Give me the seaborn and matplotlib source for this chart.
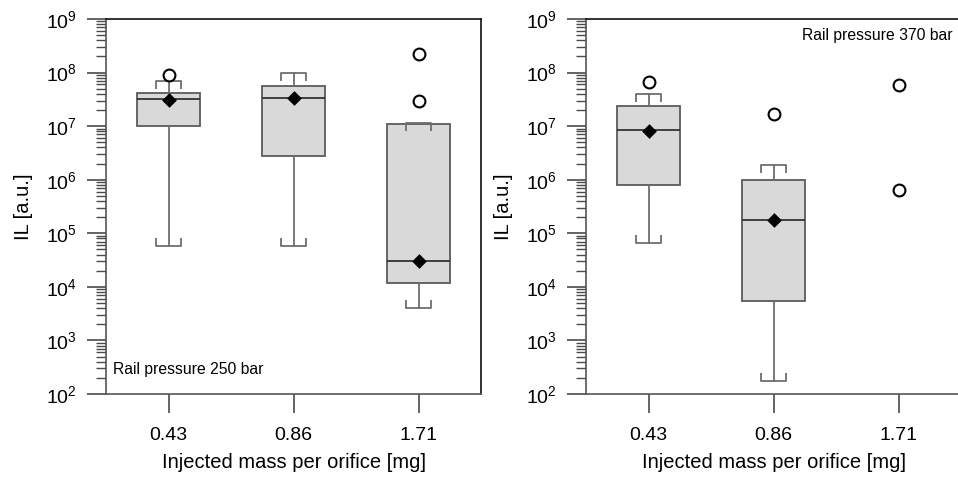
import numpy as np
import pandas as pd
import matplotlib
matplotlib.use("Agg")
import matplotlib.pyplot as plt
from matplotlib.ticker import LogLocator, NullFormatter, LogFormatterSciNotation
import seaborn as sns

# ---- data: box statistics of IL per injected mass ----
categories = ["0.43", "0.86", "1.71"]

p250_whislo = [5.7e4, 5.8e4, 4.1e3]
p250_q1 = [1.0e7, 2.8e6, 1.2e4]
p250_med = [3.2e7, 3.4e7, 3.1e4]
p250_q3 = [4.1e7, 5.7e7, 1.12e7]
p250_whishi = [7.1e7, 1.0e8, 1.14e7]
p250_mean = [3.1e7, 3.3e7, 3.1e4]
p250_fliers = [[9.2e7], [], [2.25e8, 2.9e7]]

p370_whislo = [6.7e4, 1.75e2, np.nan]
p370_q1 = [7.8e5, 5.4e3, np.nan]
p370_med = [8.3e6, 1.77e5, np.nan]
p370_q3 = [2.4e7, 1.0e6, np.nan]
p370_whishi = [3.9e7, 1.88e6, np.nan]
p370_mean = [8.2e6, 1.75e5, np.nan]
p370_fliers = [[6.8e7], [1.7e7], [5.8e7, 6.3e5]]

panel_titles = ["Rail pressure 250 bar", "Rail pressure 370 bar"]

# ---- style ----
sns.set_theme(style="ticks")
plt.rcParams["font.family"] = ["Liberation Sans", "DejaVu Sans"]
plt.rcParams["mathtext.fontset"] = "custom"
plt.rcParams["mathtext.rm"] = "Liberation Sans"
plt.rcParams["mathtext.it"] = "Liberation Sans:italic"
plt.rcParams["mathtext.default"] = "regular"
plt.rcParams["text.color"] = "black"
plt.rcParams["axes.labelcolor"] = "black"

BOX_FILL = "#d9d9d9"
BOX_EDGE = "#5a5a5a"
WHISK = "#6e6e6e"
MED = "#333333"

fig = plt.figure(figsize=(9.58, 4.78), dpi=100)
ax_l = fig.add_axes([106 / 958, 1 - 394 / 478, 375 / 958, 375 / 478])
ax_r = fig.add_axes([586 / 958, 1 - 394 / 478, 375 / 958, 375 / 478])


def stats_table(whislo, q1, med, q3, whishi, mean):
    return pd.DataFrame({"cat": categories, "whislo": whislo, "q1": q1,
                         "med": med, "q3": q3, "whishi": whishi, "mean": mean})


def draw_panel(ax, table, fliers, title, title_loc):
    ax.set_yscale("log")
    ax.set_ylim(1e2, 1e9)

    valid = table.dropna()
    positions = [categories.index(c) for c in valid["cat"]]
    bxpstats = [dict(whislo=r.whislo, q1=r.q1, med=r.med, q3=r.q3,
                     whishi=r.whishi, fliers=[]) for r in valid.itertuples()]
    art = ax.bxp(bxpstats, positions=positions, widths=0.5, capwidths=0.2,
                 patch_artist=True, showfliers=False, manage_ticks=False,
                 boxprops=dict(facecolor=BOX_FILL, edgecolor=BOX_EDGE, linewidth=1.3),
                 whiskerprops=dict(color=WHISK, linewidth=1.3),
                 capprops=dict(color=WHISK, linewidth=1.3),
                 medianprops=dict(color=MED, linewidth=1.3))

    # short serifs at the cap ends, pointing toward the box
    for i, cap in enumerate(art["caps"]):
        xd = cap.get_xdata()
        yd = cap.get_ydata()
        marker = 2 if i % 2 == 0 else 3
        ax.plot(xd, yd, linestyle="none", marker=marker, markersize=6,
                markeredgewidth=1.3, color=WHISK, zorder=cap.get_zorder())

    # means
    means = valid[["cat", "mean"]]
    sns.stripplot(data=means, x="cat", y="mean", order=categories, jitter=False,
                  marker="D", size=7.5, color="black", linewidth=0, ax=ax, zorder=5)

    # outliers
    fl = pd.DataFrame([(c, v) for c, vals in zip(categories, fliers) for v in vals],
                      columns=["cat", "val"])
    sns.stripplot(data=fl, x="cat", y="val", order=categories, jitter=False,
                  marker="o", size=8.5, color="white", edgecolor="black",
                  linewidth=1.5, ax=ax, zorder=5)

    ax.set_xlim(-0.5, 2.5)
    ax.set_ylim(1e2, 1e9)
    ax.yaxis.set_major_locator(LogLocator(base=10, numticks=20))
    ax.yaxis.set_minor_locator(LogLocator(base=10, subs=np.arange(2, 10), numticks=20))
    ax.yaxis.set_major_formatter(LogFormatterSciNotation())
    ax.yaxis.set_minor_formatter(NullFormatter())

    ax.set_xlabel("Injected mass per orifice [mg]", fontsize=14.5, labelpad=6)
    ax.set_ylabel("IL [a.u.]", fontsize=14.5, labelpad=9)
    ax.tick_params(axis="both", which="major", direction="out", length=14,
                   width=1.1, color="#3a3a3a", labelsize=14, pad=7,
                   labelcolor="black")
    ax.tick_params(axis="y", which="minor", direction="out", length=7,
                   width=1.0, color="#4a4a4a")
    ax.tick_params(axis="x", which="major", pad=10)

    for side in ["left", "bottom"]:
        ax.spines[side].set_color("#555555")
        ax.spines[side].set_linewidth(1.2)
    for side in ["top", "right"]:
        ax.spines[side].set_visible(True)
        ax.spines[side].set_color("#111111")
        ax.spines[side].set_linewidth(1.2)

    if title_loc == "lower left":
        ax.text(0.018, 0.045, title, transform=ax.transAxes, fontsize=11.3,
                ha="left", va="bottom")
    else:
        ax.text(0.979, 0.975, title, transform=ax.transAxes, fontsize=11.3,
                ha="right", va="top")


draw_panel(ax_l, stats_table(p250_whislo, p250_q1, p250_med, p250_q3, p250_whishi, p250_mean),
           p250_fliers, panel_titles[0], "lower left")
draw_panel(ax_r, stats_table(p370_whislo, p370_q1, p370_med, p370_q3, p370_whishi, p370_mean),
           p370_fliers, panel_titles[1], "upper right")

fig.savefig("out.png", dpi=100)
